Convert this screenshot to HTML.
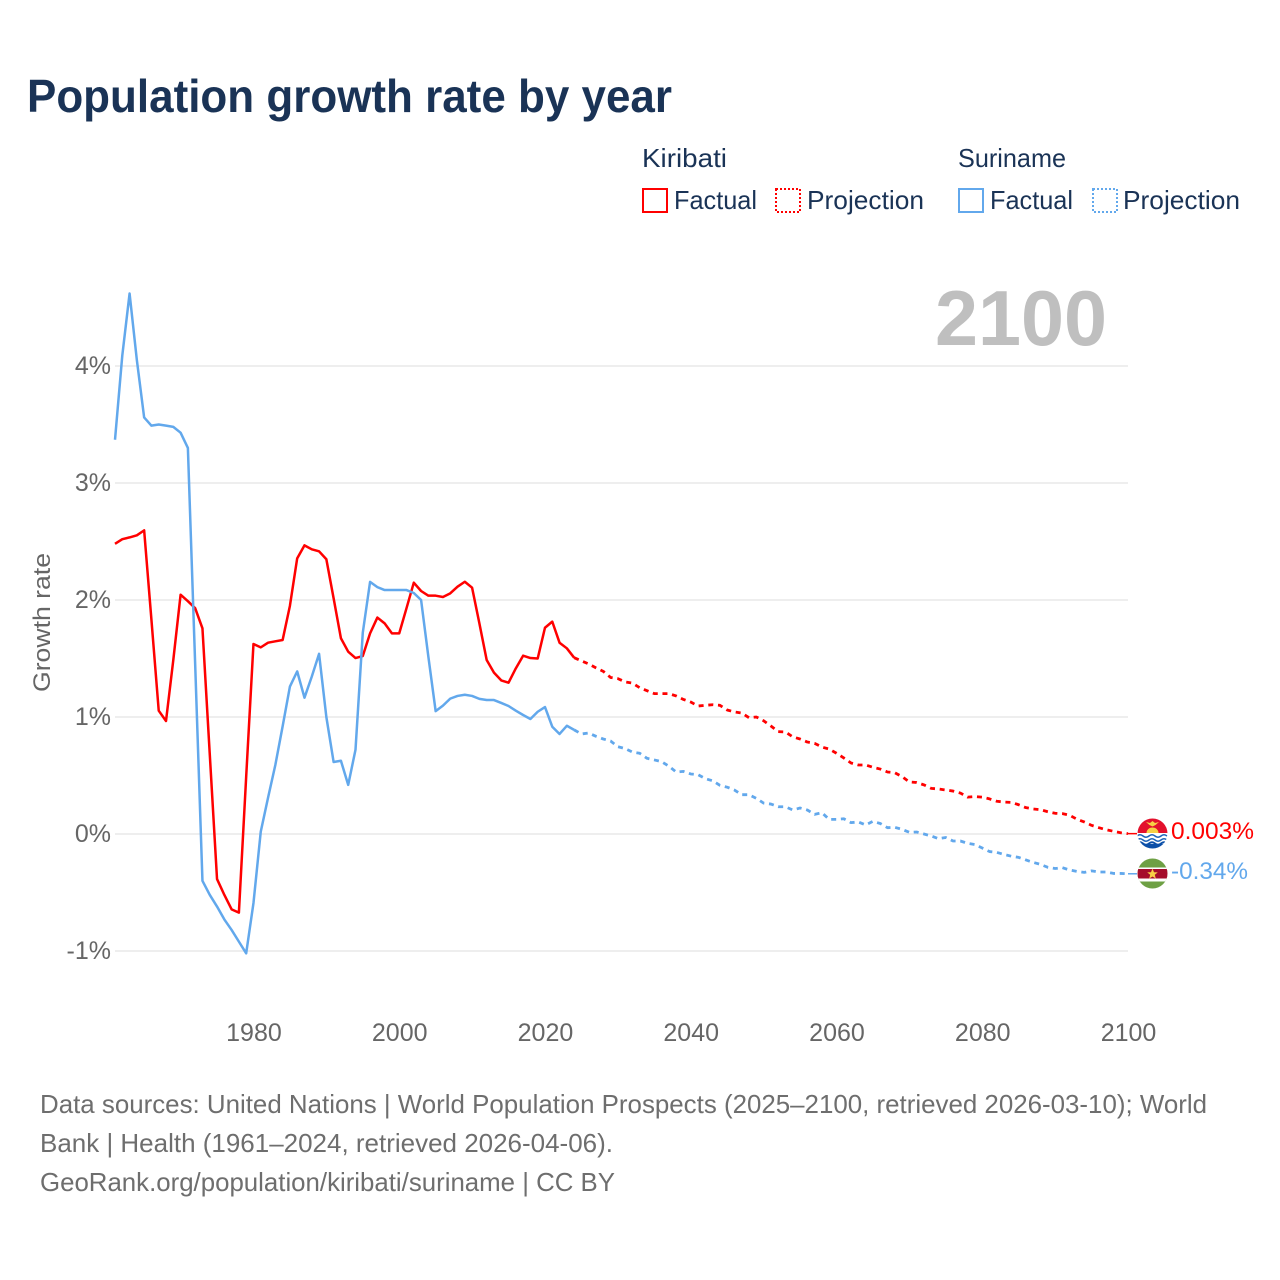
<!DOCTYPE html>
<html lang="en">
<head>
<meta charset="utf-8">
<title>Population growth rate by year</title>
<style>
html,body{margin:0;padding:0;background:#fff;}
svg{display:block;font-family:"Liberation Sans",sans-serif;}
</style>
</head>
<body>
<svg id="chart" xmlns="http://www.w3.org/2000/svg" width="1280" height="1280" viewBox="0 0 1280 1280">
  <rect x="0" y="0" width="1280" height="1280" fill="#ffffff"/>
  <text x="27" y="112" font-size="46" font-weight="700" fill="#1a3356" textLength="645" lengthAdjust="spacingAndGlyphs">Population growth rate by year</text>

  <g font-size="26" fill="#1a3356">
    <text x="642" y="167" textLength="85" lengthAdjust="spacingAndGlyphs">Kiribati</text>
    <text x="958" y="167" textLength="108" lengthAdjust="spacingAndGlyphs">Suriname</text>
    <rect x="643" y="189" width="24" height="23" fill="none" stroke="#ff0000" stroke-width="2"/>
    <text x="674" y="209" textLength="83" lengthAdjust="spacingAndGlyphs">Factual</text>
    <rect x="776" y="189" width="24" height="23" fill="none" stroke="#ff0000" stroke-width="2" stroke-dasharray="2 2"/>
    <text x="807" y="209" textLength="117" lengthAdjust="spacingAndGlyphs">Projection</text>
    <rect x="959" y="189" width="24" height="23" fill="none" stroke="#62a8ec" stroke-width="2"/>
    <text x="990" y="209" textLength="83" lengthAdjust="spacingAndGlyphs">Factual</text>
    <rect x="1093" y="189" width="24" height="23" fill="none" stroke="#62a8ec" stroke-width="2" stroke-dasharray="2 2"/>
    <text x="1123" y="209" textLength="117" lengthAdjust="spacingAndGlyphs">Projection</text>
  </g>

  <text x="935" y="345" font-size="78" font-weight="700" fill="#bfbfbf" textLength="172" lengthAdjust="spacingAndGlyphs">2100</text>
  <text transform="translate(50,622.5) rotate(-90)" text-anchor="middle" font-size="24" fill="#666666" textLength="139" lengthAdjust="spacingAndGlyphs">Growth rate</text>

  <g id="grid"></g>
  <g id="yticks"></g>
  <g id="xticks"></g>
  <g id="series"></g>

  <defs>
    <clipPath id="clip-kiribati"><circle cx="1152.5" cy="833.5" r="15"/></clipPath>
    <clipPath id="clip-suriname"><circle cx="1152.5" cy="873.5" r="15"/></clipPath>
  </defs>
  <g clip-path="url(#clip-kiribati)">
    <rect x="1137" y="818" width="31" height="16" fill="#e3102c"/>
    <rect x="1137" y="833" width="31" height="16" fill="#ffffff"/>
    <path d="M1137 836q3-2.500 6 0t6 0t6 0t6 0t6 0" fill="none" stroke="#1d63b8" stroke-width="1.500"/>
    <path d="M1137 840q3-2.500 6 0t6 0t6 0t6 0t6 0" fill="none" stroke="#1d63b8" stroke-width="1.500"/>
    <path d="M1137 843.500q3-2.500 6 0t6 0t6 0t6 0t6 0" fill="none" stroke="#0b4fa8" stroke-width="2"/>
    <rect x="1137" y="844" width="31" height="6" fill="#0b4fa8"/>
    <path d="M1146 822l4 1 2.500-2 2.500 2 4-1-3.500 3-3 1.500-3-1.500z" fill="#f7d046"/>
    <path d="M1146.500 833a6 5.500 0 0 1 12 0z" fill="#f7d046"/>
  </g>
  <g clip-path="url(#clip-suriname)">
    <rect x="1137" y="858" width="31" height="31" fill="#6ea044"/>
    <rect x="1137" y="867.500" width="31" height="14" fill="#ffffff"/>
    <rect x="1137" y="869" width="31" height="9.500" fill="#a50d2b"/>
    <polygon points="1152.500,868.500 1154,872.200 1157.800,872.400 1154.800,874.800 1155.800,878.600 1152.500,876.500 1149.200,878.600 1150.200,874.800 1147.200,872.400 1151,872.200" fill="#f7d046"/>
  </g>
  <text x="1171" y="839" font-size="24" fill="#ff0000" textLength="83" lengthAdjust="spacingAndGlyphs">0.003%</text>
  <text x="1171" y="879" font-size="24" fill="#62a8ec" textLength="77" lengthAdjust="spacingAndGlyphs">-0.34%</text>

  <g font-size="26" fill="#6e6e6e">
    <text x="40" y="1113" textLength="1167" lengthAdjust="spacingAndGlyphs">Data sources: United Nations | World Population Prospects (2025–2100, retrieved 2026-03-10); World</text>
    <text x="40" y="1152" textLength="573" lengthAdjust="spacingAndGlyphs">Bank | Health (1961–2024, retrieved 2026-04-06).</text>
    <text x="40" y="1191" textLength="575" lengthAdjust="spacingAndGlyphs">GeoRank.org/population/kiribati/suriname | CC BY</text>
  </g>
</svg>

<script>
var firstFactualYear = 1961;
var firstProjectionYear = 2024;
var lastYear = 2100;
var yTickValues = [-1, 0, 1, 2, 3, 4];
var yTickLabels = ["-1%", "0%", "1%", "2%", "3%", "4%"];
var xTickValues = [1980, 2000, 2020, 2040, 2060, 2080, 2100];
var xTickLabels = ["1980", "2000", "2020", "2040", "2060", "2080", "2100"];

var kiribatiFactual = [2.48,2.52,2.535,2.553,2.595,1.83,1.054,0.966,1.487,2.045,1.99,1.93,1.758,0.686,-0.385,-0.52,-0.644,-0.672,0.49,1.624,1.595,1.635,1.647,1.658,1.95,2.356,2.467,2.433,2.416,2.348,2.014,1.673,1.558,1.504,1.521,1.715,1.85,1.80,1.715,1.715,1.93,2.148,2.077,2.037,2.037,2.026,2.057,2.114,2.156,2.105,1.80,1.487,1.379,1.313,1.293,1.416,1.524,1.504,1.50,1.763,1.815,1.635,1.587,1.507];

var surinameFactual = [3.37,4.09,4.62,4.05,3.56,3.49,3.50,3.49,3.48,3.43,3.30,1.45,-0.40,-0.52,-0.62,-0.73,-0.82,-0.92,-1.02,-0.59,0.02,0.31,0.59,0.92,1.26,1.39,1.165,1.345,1.54,1.0,0.615,0.626,0.42,0.72,1.72,2.155,2.11,2.085,2.085,2.085,2.085,2.06,2.0,1.515,1.05,1.097,1.157,1.18,1.19,1.18,1.155,1.145,1.145,1.12,1.094,1.054,1.017,0.983,1.045,1.085,0.917,0.855,0.925,0.89];

var kiribatiProjection = [1.507,1.48,1.453,1.42,1.39,1.338,1.328,1.30,1.29,1.25,1.225,1.2,1.2,1.2,1.18,1.15,1.128,1.094,1.10,1.105,1.10,1.06,1.043,1.034,0.994,1.0,0.968,0.923,0.875,0.872,0.83,0.812,0.786,0.775,0.743,0.726,0.69,0.65,0.607,0.59,0.59,0.57,0.555,0.53,0.524,0.49,0.445,0.44,0.42,0.39,0.385,0.376,0.367,0.35,0.315,0.32,0.315,0.30,0.28,0.273,0.27,0.25,0.225,0.214,0.208,0.19,0.177,0.174,0.16,0.126,0.103,0.074,0.054,0.037,0.023,0.011,0.003];

var surinameProjection = [0.89,0.855,0.863,0.835,0.812,0.795,0.746,0.73,0.70,0.69,0.647,0.633,0.618,0.58,0.53,0.535,0.513,0.507,0.473,0.455,0.416,0.40,0.376,0.336,0.336,0.305,0.264,0.256,0.233,0.233,0.205,0.222,0.205,0.168,0.182,0.125,0.125,0.13,0.097,0.103,0.077,0.108,0.09,0.054,0.057,0.04,0.014,0.017,0,-0.017,-0.04,-0.03,-0.06,-0.06,-0.08,-0.09,-0.12,-0.15,-0.157,-0.175,-0.19,-0.2,-0.222,-0.243,-0.26,-0.285,-0.295,-0.288,-0.308,-0.32,-0.328,-0.315,-0.325,-0.325,-0.337,-0.337,-0.34];

var NS = "http://www.w3.org/2000/svg";
var RED = "#ff0000";
var BLUE = "#62a8ec";
var plotLeft = 115;
var plotRight = 1128;

function xScale(year) {
  return plotLeft + (year - firstFactualYear) * (plotRight - plotLeft) / (lastYear - firstFactualYear);
}
function yScale(value) {
  return 834 - value * 117;
}
function pathFor(values, startYear) {
  var d = "";
  for (var i = 0; i < values.length; i++) {
    d += (i === 0 ? "M" : "L") + xScale(startYear + i).toFixed(2) + " " + yScale(values[i]).toFixed(2);
  }
  return d;
}
function drawLine(name, values, startYear, color, dash) {
  var el = document.createElementNS(NS, "path");
  
  
  el.setAttribute("d", pathFor(values, startYear));
  el.setAttribute("fill", "none");
  el.setAttribute("stroke", color);
  el.setAttribute("stroke-width", dash ? "2.8" : "2.5");
  el.setAttribute("stroke-linejoin", "round");
  if (dash) { el.setAttribute("stroke-dasharray", dash); }
  document.getElementById("series").appendChild(el);
}
function drawConnector(name, value, color) {
  var el = document.createElementNS(NS, "line");
  
  
  el.setAttribute("x1", xScale(lastYear));
  el.setAttribute("x2", xScale(lastYear) + 9);
  el.setAttribute("y1", yScale(value));
  el.setAttribute("y2", yScale(value));
  el.setAttribute("stroke", color);
  el.setAttribute("stroke-width", "1.500");
  document.getElementById("series").appendChild(el);
}

yTickValues.forEach(function (v, i) {
  var line = document.createElementNS(NS, "line");
  
  
  line.setAttribute("x1", plotLeft);
  line.setAttribute("x2", plotRight);
  line.setAttribute("y1", yScale(v));
  line.setAttribute("y2", yScale(v));
  line.setAttribute("stroke", "#e9e9e9");
  line.setAttribute("stroke-width", "1.500");
  document.getElementById("grid").appendChild(line);

  var label = document.createElementNS(NS, "text");
  
  
  label.setAttribute("x", 111);
  label.setAttribute("y", yScale(v) + 8);
  label.setAttribute("text-anchor", "end");
  label.setAttribute("font-size", "25");
  label.setAttribute("fill", "#666666");
  label.textContent = yTickLabels[i];
  document.getElementById("yticks").appendChild(label);
});

xTickValues.forEach(function (v, i) {
  var label = document.createElementNS(NS, "text");
  
  
  label.setAttribute("x", xScale(v) + 0.5);
  label.setAttribute("y", 1041);
  label.setAttribute("text-anchor", "middle");
  label.setAttribute("font-size", "25");
  label.setAttribute("fill", "#666666");
  label.textContent = xTickLabels[i];
  document.getElementById("xticks").appendChild(label);
});

drawLine("kiribati-projection-line", kiribatiProjection, firstProjectionYear, RED, "5 4.7");
drawLine("suriname-projection-line", surinameProjection, firstProjectionYear, BLUE, "5 4.7");
drawLine("kiribati-factual-line", kiribatiFactual, firstFactualYear, RED, null);
drawLine("suriname-factual-line", surinameFactual, firstFactualYear, BLUE, null);
drawConnector("kiribati-end-connector", kiribatiProjection[kiribatiProjection.length - 1], RED);
drawConnector("suriname-end-connector", surinameProjection[surinameProjection.length - 1], BLUE);
</script>
</body>
</html>
